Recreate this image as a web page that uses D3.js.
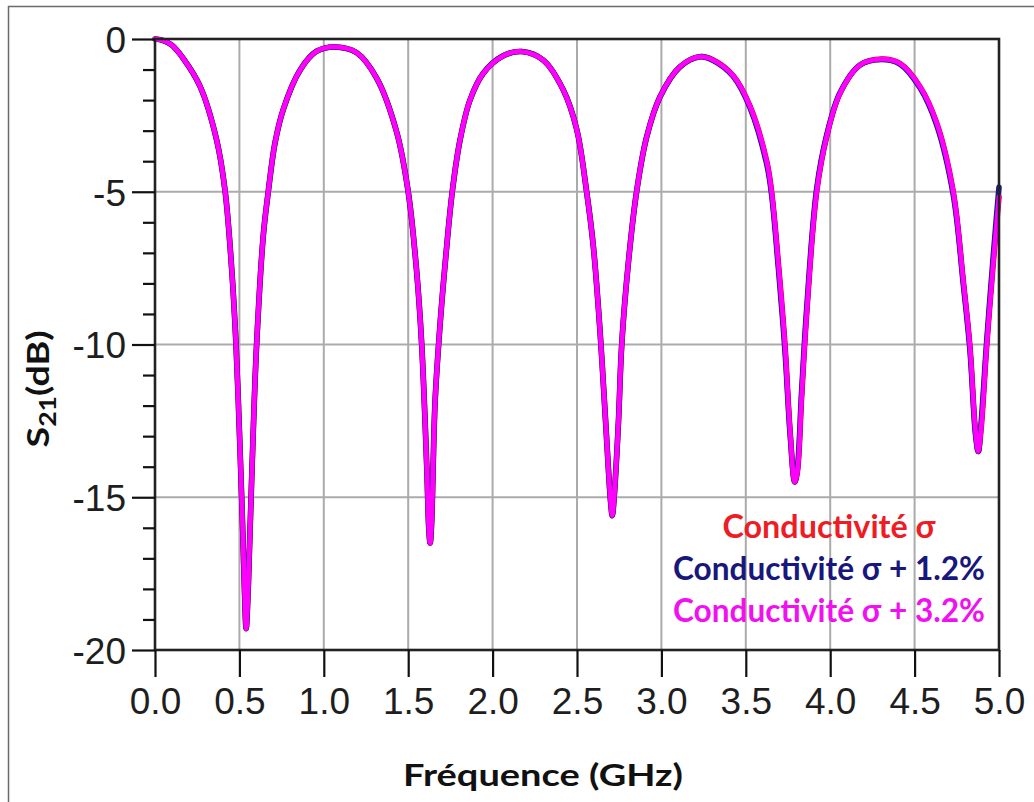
<!DOCTYPE html>
<html>
<head>
<meta charset="utf-8">
<script src="https://cdn.jsdelivr.net/npm/d3@7"></script>
<style>
  html, body { margin: 0; padding: 0; background: #fff; }
  svg { display: block; }
</style>
</head>
<body>
<svg id="chart" width="1034" height="802"></svg>
<script>
// ---------- data ----------
const freqGHz = [0.000, 0.050, 0.100, 0.168, 0.267, 0.365, 0.415, 0.454, 0.480, 0.500, 0.517, 0.530, 0.540, 0.550, 0.559, 0.582, 0.602, 0.642, 0.671, 0.711, 0.760, 0.859, 0.958, 1.066, 1.195, 1.313, 1.432, 1.500, 1.550, 1.580, 1.610, 1.622, 1.630, 1.638, 1.659, 1.688, 1.728, 1.761, 1.807, 1.866, 1.945, 2.063, 2.172, 2.300, 2.419, 2.498, 2.557, 2.597, 2.636, 2.666, 2.700, 2.709, 2.720, 2.745, 2.765, 2.804, 2.853, 2.913, 2.992, 3.110, 3.229, 3.307, 3.425, 3.525, 3.624, 3.653, 3.693, 3.732, 3.762, 3.790, 3.805, 3.831, 3.861, 3.920, 3.979, 4.058, 4.177, 4.305, 4.413, 4.532, 4.631, 4.729, 4.788, 4.828, 4.860, 4.877, 4.895, 4.927, 4.966, 5.000];

const s21Sigma = [0.00, -0.05, -0.2, -0.64, -1.55, -3.3, -4.96, -7.5, -10.0, -12.85, -15.6, -18.0, -19.3, -18.3, -16.8, -12.85, -10.0, -6.4, -5.0, -3.4, -2.3, -1.02, -0.4, -0.26, -0.45, -1.28, -3.05, -5.0, -7.6, -10.0, -14.0, -16.0, -16.5, -15.9, -11.9, -9.4, -6.8, -5.0, -3.31, -2.0, -1.12, -0.55, -0.41, -0.69, -1.67, -2.95, -5.0, -6.8, -9.53, -12.2, -15.2, -15.6, -15.0, -12.6, -10.0, -7.34, -5.0, -3.2, -1.89, -0.91, -0.58, -0.69, -1.2, -2.2, -4.0, -5.0, -7.34, -10.0, -12.8, -14.5, -14.2, -11.7, -8.98, -5.0, -3.2, -1.78, -0.85, -0.66, -0.8, -1.56, -2.75, -5.0, -7.89, -10.07, -12.8, -13.5, -12.7, -10.07, -7.34, -5.16];

const s21Sigma12 = [0.00, -0.05, -0.2, -0.64, -1.55, -3.3, -4.96, -7.5, -10.0, -12.85, -15.6, -18.0, -19.3, -18.3, -16.8, -12.85, -10.0, -6.4, -5.0, -3.4, -2.3, -1.02, -0.4, -0.26, -0.45, -1.28, -3.05, -5.0, -7.6, -10.0, -14.0, -16.0, -16.5, -15.9, -11.9, -9.4, -6.8, -5.0, -3.31, -2.0, -1.12, -0.55, -0.41, -0.69, -1.67, -2.95, -5.0, -6.8, -9.53, -12.2, -15.2, -15.6, -15.0, -12.6, -10.0, -7.34, -5.0, -3.2, -1.89, -0.91, -0.58, -0.70, -1.22, -2.25, -4.1, -5.1, -7.5, -10.2, -12.9, -14.5, -14.1, -11.5, -8.8, -4.9, -3.15, -1.76, -0.85, -0.67, -0.82, -1.6, -2.82, -5.1, -8.0, -10.2, -12.9, -13.5, -12.5, -9.9, -7.1, -4.85];

const s21Sigma32 = [0.00, -0.05, -0.2, -0.64, -1.55, -3.3, -4.96, -7.5, -10.0, -12.85, -15.6, -18.0, -19.3, -18.3, -16.8, -12.85, -10.0, -6.4, -5.0, -3.4, -2.3, -1.02, -0.4, -0.26, -0.45, -1.28, -3.05, -5.0, -7.6, -10.0, -14.0, -16.0, -16.5, -15.9, -11.9, -9.4, -6.8, -5.0, -3.31, -2.0, -1.12, -0.55, -0.41, -0.69, -1.67, -2.95, -5.0, -6.8, -9.53, -12.2, -15.2, -15.6, -15.0, -12.6, -10.0, -7.34, -5.0, -3.2, -1.89, -0.91, -0.58, -0.69, -1.2, -2.2, -4.0, -5.0, -7.34, -10.0, -12.8, -14.5, -14.2, -11.7, -8.98, -5.0, -3.2, -1.78, -0.85, -0.66, -0.8, -1.56, -2.75, -5.0, -7.89, -10.07, -12.8, -13.5, -12.7, -10.07, -7.34, -5.16];

const seriesNames = ["Conductivité σ", "Conductivité σ + 1.2%", "Conductivité σ + 3.2%"];
const xTickValues = [0.0, 0.5, 1.0, 1.5, 2.0, 2.5, 3.0, 3.5, 4.0, 4.5, 5.0];
const yTickValues = [0, -5, -10, -15, -20];
const yMinorTickValues = [-1, -2, -3, -4, -6, -7, -8, -9, -11, -12, -13, -14, -16, -17, -18, -19];
const xTitle = "Fréquence (GHz)";

// ---------- layout ----------
const svg = d3.select("#chart");
svg.append("rect").attr("width", 1034).attr("height", 802).attr("fill", "#fff");

// outer border (cropped screenshot frame)
svg.append("path")
  .attr("d", "M1034,6.5 H8.5 V802")
  .attr("fill", "none").attr("stroke", "#6a6a6a").attr("stroke-width", 1.5);

const x = d3.scaleLinear().domain([0, 5]).range([155, 999]);
const y = d3.scaleLinear().domain([-20, 0]).range([650, 39]);

const seriesColors = ["#ff0000", "#1a1a86", "#ff00ff"];
const legendColors = ["#ee1c24", "#17177c", "#f010f0"];

// gridlines
const grid = svg.append("g");
grid.selectAll("line.vx").data(xTickValues.filter(d => d > 0 && d < 5)).join("line")
  .attr("x1", d => x(d)).attr("x2", d => x(d))
  .attr("y1", y(0)).attr("y2", y(-20))
  .attr("stroke", "#ababab").attr("stroke-width", 2);
grid.selectAll("line.hy").data(yTickValues.filter(d => d < 0 && d > -20)).join("line")
  .attr("x1", x(0)).attr("x2", x(5))
  .attr("y1", d => y(d)).attr("y2", d => y(d))
  .attr("stroke", "#ababab").attr("stroke-width", 2);

// legend
const legendY = [538, 580, 622];
const legendLen = [213, 312, 312];
seriesNames.forEach((name, i) => {
  svg.append("text")
    .attr("x", 829).attr("y", legendY[i])
    .attr("text-anchor", "middle")
    .attr("font-family", "Lato, 'Open Sans', sans-serif")
    .attr("font-weight", 700)
    .attr("font-size", 32)
    .attr("fill", legendColors[i])
    .attr("textLength", legendLen[i])
    .attr("lengthAdjust", "spacingAndGlyphs")
    .text(name);
});

// curves
const allSeries = [s21Sigma, s21Sigma12, s21Sigma32];
const widths = [5.6, 5.6, 4.8];
const line = d3.line()
  .x(d => x(d[0]))
  .y(d => y(d[1]))
  .curve(d3.curveCatmullRom.alpha(0.5));
allSeries.forEach((vals, i) => {
  const pts = freqGHz.map((f, k) => [f, vals[k]]);
  svg.append("path")
    .attr("d", line(pts))
    .attr("fill", "none")
    .attr("stroke", seriesColors[i])
    .attr("stroke-width", widths[i])
    .attr("stroke-linejoin", "round")
    .attr("stroke-linecap", "round");
});

// frame
svg.append("rect")
  .attr("x", x(0)).attr("y", y(0))
  .attr("width", x(5) - x(0)).attr("height", y(-20) - y(0))
  .attr("fill", "none").attr("stroke", "#222").attr("stroke-width", 2.6);

// axes
const tickFont = "'Liberation Sans', Arial, sans-serif";
const xAxis = d3.axisBottom(x).tickValues(xTickValues).tickFormat(d3.format(".1f"))
  .tickSizeInner(27).tickSizeOuter(0).tickPadding(11);
const gx = svg.append("g").attr("transform", `translate(0,${y(-20)})`).call(xAxis);
gx.select(".domain").remove();
gx.selectAll(".tick line").attr("stroke", "#111").attr("stroke-width", 2.2);
gx.selectAll(".tick text").attr("font-family", tickFont).attr("font-size", 37).attr("fill", "#1e1e1e");

const yAxis = d3.axisLeft(y).tickValues(yTickValues).tickFormat(d => String(d))
  .tickSizeInner(23).tickSizeOuter(0).tickPadding(6);
const gy = svg.append("g").attr("transform", `translate(${x(0)},0)`).call(yAxis);
gy.select(".domain").remove();
gy.selectAll(".tick line").attr("stroke", "#111").attr("stroke-width", 2.2);
gy.selectAll(".tick text").attr("font-family", tickFont).attr("font-size", 37).attr("fill", "#1e1e1e")
  .attr("dy", "0.36em");

const yMinor = d3.axisLeft(y).tickValues(yMinorTickValues).tickFormat("")
  .tickSizeInner(12).tickSizeOuter(0);
const gym = svg.append("g").attr("transform", `translate(${x(0)},0)`).call(yMinor);
gym.select(".domain").remove();
gym.selectAll(".tick line").attr("stroke", "#111").attr("stroke-width", 2.2);

// axis titles
svg.append("text")
  .attr("x", 543).attr("y", 786)
  .attr("text-anchor", "middle")
  .attr("font-family", "Lato, 'Open Sans', sans-serif")
  .attr("font-weight", 700).attr("font-size", 31)
  .attr("fill", "#111")
  .attr("textLength", 280).attr("lengthAdjust", "spacingAndGlyphs")
  .text(xTitle);

const yt = svg.append("text")
  .attr("transform", "translate(49,389) rotate(-90)")
  .attr("text-anchor", "middle")
  .attr("font-family", "Lato, 'Open Sans', sans-serif")
  .attr("font-weight", 700).attr("font-size", 31)
  .attr("fill", "#111")
  .attr("textLength", 117).attr("lengthAdjust", "spacingAndGlyphs");
yt.append("tspan").text("S");
yt.append("tspan").attr("font-size", 22).attr("dy", 7).text("21");
yt.append("tspan").attr("dy", -7).text("(dB)");
</script>
</body>
</html>
